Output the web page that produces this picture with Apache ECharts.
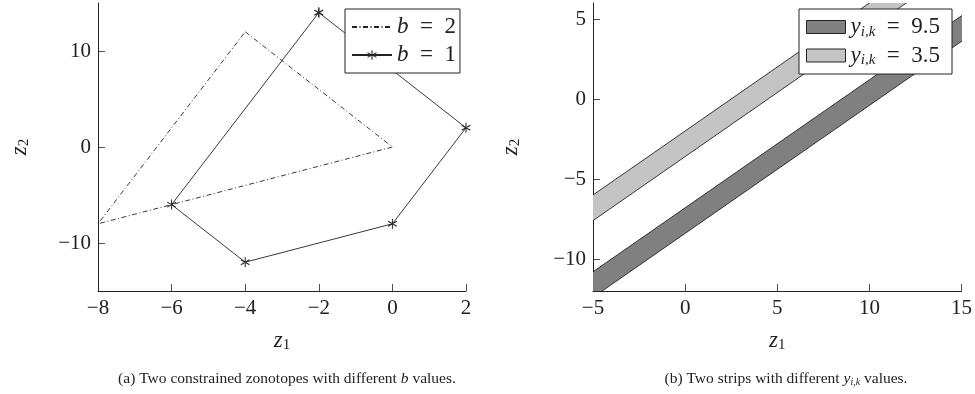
<!DOCTYPE html>
<html>
<head>
<meta charset="utf-8">
<script src="https://cdn.jsdelivr.net/npm/echarts@6/dist/echarts.min.js"></script>
<style>
  html, body { margin: 0; padding: 0; background: #fff; }
  #container { width: 975px; height: 394px; }
</style>
</head>
<body>
<div id="container"></div>
<script>
var container = document.getElementById('container');
var charts = echarts.init(container);

// (a) constrained zonotope vertices
var zonoB2 = [[-4, 12], [0, 0], [-8, -8]];
var zonoB1 = [[-2, 14], [2, 2], [0, -8], [-4, -12], [-6, -6]];

// (b) strip boundaries: z2 at the two z1 ends (lines run past the axes, clipped)
var stripZ1Ends = [-6, 16];
var strip95Upper = [-11.6, 6.0];
var strip95Lower = [-13.2, 4.4];
var strip35Upper = [-6.8, 10.8];
var strip35Lower = [-8.4, 9.2];

// tick labels
var xTicksA = [-8, -6, -4, -2, 0, 2];
var yTicksA = [-10, 0, 10];
var xTicksB = [-5, 0, 5, 10, 15];
var yTicksB = [-10, -5, 0, 5];

var FONT = 'Liberation Serif';
var INK = '#222';
var SP = '\u2002';
var ASTERISK = 'path://M-0.5,-5L0.5,-5L0.5,5L-0.5,5Z' +
    'M4.58,-2.07L4.08,-2.93L-4.58,2.07L-4.08,2.93Z' +
    'M-4.58,-2.07L-4.08,-2.93L4.58,2.07L4.08,2.93Z';

function closed(pts) {
    return pts.concat([pts[0]]);
}
function stripPolygon(upper, lower) {
    return [[stripZ1Ends[0], upper[0]], [stripZ1Ends[1], upper[1]],
            [stripZ1Ends[1], lower[1]], [stripZ1Ends[0], lower[0]]];
}
function fmtNum(v) {
    return v < 0 ? '\u2212' + Math.abs(v) : String(v);
}
function renderStrip(params, api) {
    if (params.dataIndex > 0) return;
    var pts = [];
    for (var i = 0; i < 4; i++) {
        pts.push(api.coord([api.value(0, i), api.value(1, i)]));
    }
    return {
        type: 'polygon',
        shape: { points: pts },
        style: { fill: api.visual('color'), stroke: INK, lineWidth: 0.9 }
    };
}

var richText = {
    i: { fontFamily: FONT, fontStyle: 'italic', fontSize: 23, color: INK },
    s: { fontFamily: FONT, fontStyle: 'italic', fontSize: 15, color: INK, padding: [10, 0, 0, 0] },
    n: { fontFamily: FONT, fontSize: 15, color: INK, padding: [10, 0, 0, 0] }
};

function axisCommon() {
    return {
        axisLine: { show: true, onZero: false, lineStyle: { color: INK, width: 1 } },
        axisTick: { show: true, inside: true, length: 7, lineStyle: { color: INK, width: 0.8 } },
        splitLine: { show: false },
        axisLabel: { fontFamily: FONT, fontSize: 21, color: INK, formatter: fmtNum, margin: 7 },
        nameLocation: 'middle',
        nameTextStyle: { fontFamily: FONT, fontSize: 22, color: INK, rich: richText }
    };
}

function xAxis(idx, min, max, interval, ticks) {
    var a = axisCommon();
    a.type = 'value';
    a.gridIndex = idx;
    a.min = min; a.max = max; a.interval = interval;
    a.name = '{i|z}{n|1}';
    a.nameGap = 37;
    a.axisTick.customValues = ticks;
    a.axisLabel.customValues = ticks;
    return a;
}
function yAxis(idx, min, max, ticks, gap) {
    var a = axisCommon();
    a.type = 'value';
    a.gridIndex = idx;
    a.min = min; a.max = max;
    a.name = '{i|z}{n|2}';
    a.nameGap = gap;
    a.nameRotate = 90;
    a.axisTick.customValues = ticks;
    a.axisLabel.customValues = ticks;
    return a;
}

var option = {
    animation: false,
    backgroundColor: '#fff',
    grid: [
        { left: 98, top: 3, width: 368, height: 288 },
        { left: 593, top: 3, width: 369, height: 288 }
    ],
    xAxis: [xAxis(0, -8, 2, 2, xTicksA), xAxis(1, -5, 15, 5, xTicksB)],
    yAxis: [yAxis(0, -15, 15, yTicksA, 66), yAxis(1, -12, 6, yTicksB, 70)],
    legend: [
        {
            orient: 'vertical', left: 345, top: 9,
            padding: [6, 4, 6, 6], itemGap: 4, itemWidth: 40, itemHeight: 12,
            borderColor: INK, borderWidth: 1, backgroundColor: '#fff',
            data: [
                { name: 'b = 2', itemStyle: { opacity: 0 } },
                { name: 'b = 1' }
            ],
            formatter: function (name) { return '{i|b}' + SP + '=' + SP + name.slice(-1); },
            textStyle: { fontFamily: FONT, fontSize: 23, color: INK, lineHeight: 24, rich: richText }
        },
        {
            orient: 'vertical', left: 799, top: 9, icon: 'rect',
            padding: [6, 12, 6, 7], itemGap: 4, itemWidth: 39, itemHeight: 13,
            borderColor: INK, borderWidth: 1, backgroundColor: '#fff',
            data: [
                { name: 'y = 9.5', itemStyle: { color: '#808080', borderColor: INK, borderWidth: 1 } },
                { name: 'y = 3.5', itemStyle: { color: '#c4c4c4', borderColor: INK, borderWidth: 1 } }
            ],
            formatter: function (name) { return '{i|y}{s|i,k}' + SP + '=' + SP + name.slice(-3); },
            textStyle: { fontFamily: FONT, fontSize: 23, color: INK, lineHeight: 24, rich: richText }
        }
    ],
    title: [
        {
            text: '(a) Two constrained zonotopes with different {i|b} values.',
            left: 282, top: 366, textAlign: 'center',
            textStyle: { fontFamily: FONT, fontSize: 15.5, fontWeight: 'normal', color: INK,
                rich: { i: { fontFamily: FONT, fontStyle: 'italic', fontSize: 15.5, color: INK } } }
        },
        {
            text: '(b) Two strips with different {i|y}{s|i,k} values.',
            left: 781, top: 366, textAlign: 'center',
            textStyle: { fontFamily: FONT, fontSize: 15.5, fontWeight: 'normal', color: INK,
                rich: {
                    i: { fontFamily: FONT, fontStyle: 'italic', fontSize: 15.5, color: INK },
                    s: { fontFamily: FONT, fontStyle: 'italic', fontSize: 10, color: INK, padding: [6, 0, 0, 0] }
                } }
        }
    ],
    series: [
        {
            name: 'b = 2', type: 'line', xAxisIndex: 0, yAxisIndex: 0,
            data: closed(zonoB2), symbol: 'none',
            lineStyle: { color: INK, width: 0.9, type: [5, 2.5, 1, 2.5] },
            itemStyle: { color: INK }
        },
        {
            name: 'b = 1', type: 'line', xAxisIndex: 0, yAxisIndex: 0,
            data: closed(zonoB1), symbol: ASTERISK, symbolSize: 10, symbolKeepAspect: true,
            showAllSymbol: true,
            lineStyle: { color: INK, width: 0.9 },
            itemStyle: { color: INK }
        },
        {
            name: 'y = 9.5', type: 'custom', xAxisIndex: 1, yAxisIndex: 1,
            clip: true, renderItem: renderStrip,
            itemStyle: { color: '#808080' },
            data: stripPolygon(strip95Upper, strip95Lower)
        },
        {
            name: 'y = 3.5', type: 'custom', xAxisIndex: 1, yAxisIndex: 1,
            clip: true, renderItem: renderStrip,
            itemStyle: { color: '#c4c4c4' },
            data: stripPolygon(strip35Upper, strip35Lower)
        }
    ]
};

charts.setOption(option, true);
</script>
</body>
</html>
